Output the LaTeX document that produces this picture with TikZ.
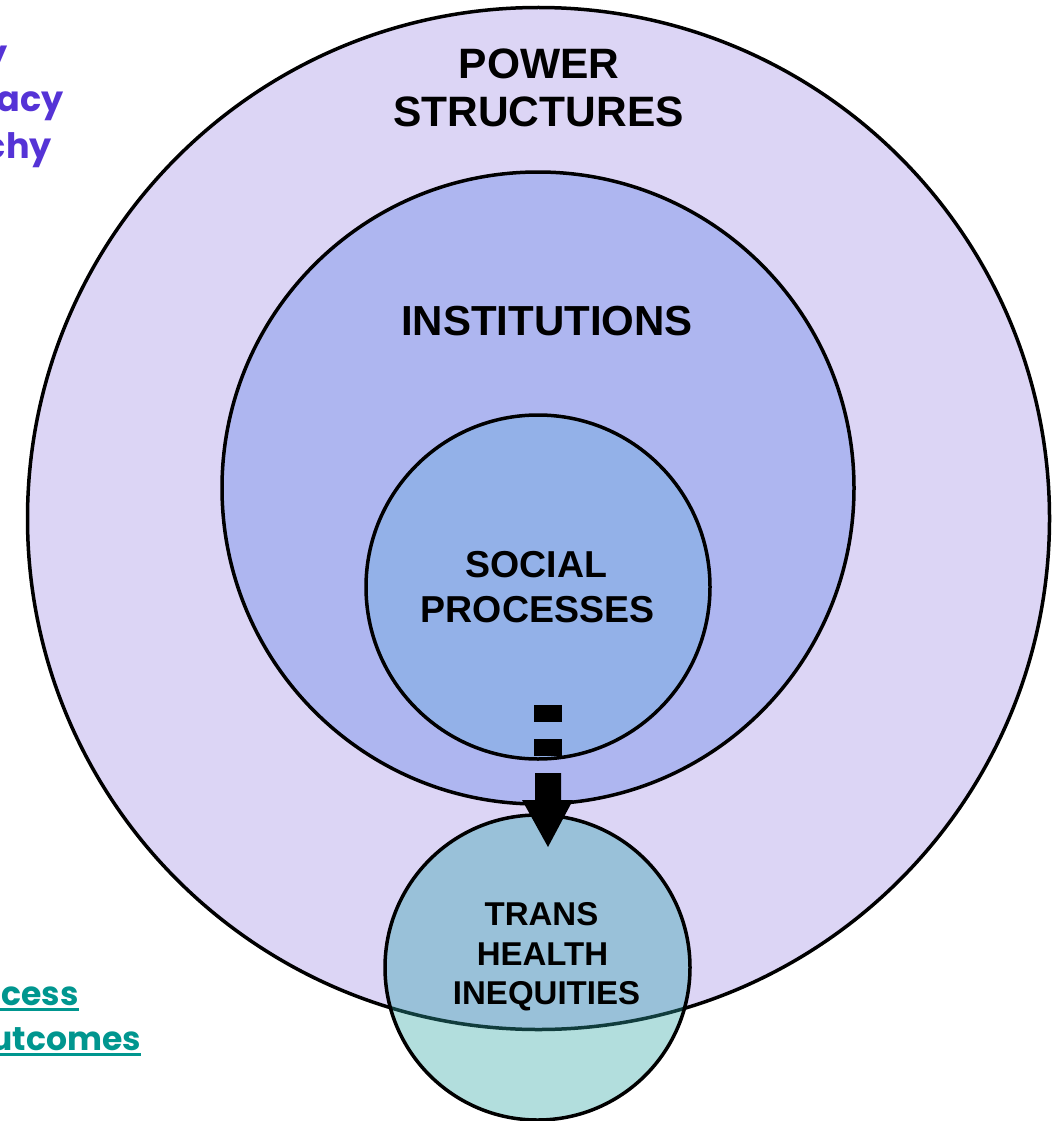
\documentclass[tikz,border=0pt]{standalone}
\usepackage{fontspec}
\setmainfont{Liberation Sans}
\newfontfamily\roundfont{Poppins}
\usetikzlibrary{calc}

\definecolor{powerfill}{HTML}{DCD5F5}
\definecolor{instfill}{HTML}{AEB6F0}
\definecolor{socialfill}{HTML}{93B1E8}
\definecolor{transfill}{HTML}{B2DEDD}
\definecolor{transmix}{HTML}{99C1D9}
\definecolor{edgemix}{HTML}{103C3C}
\definecolor{listpurple}{HTML}{5533D6}
\definecolor{listteal}{HTML}{00968F}

\tikzset{
  ring/.style={circle, draw=black, line width=3.5pt, inner sep=0pt, outer sep=0pt},
  head/.style={font=\bfseries\fontsize{#1}{#1}\selectfont, inner sep=0pt, anchor=base},
  purpletext/.style={font=\roundfont\bfseries\fontsize{35}{35}\selectfont, text=listpurple, inner sep=0pt, anchor=base east},
  tealtext/.style={font=\roundfont\bfseries\fontsize{33}{33}\selectfont, text=listteal, inner sep=0pt, anchor=base east},
  tealrule/.style={draw=listteal, line width=3pt},
}

\begin{document}
\begin{tikzpicture}[x=1pt, y=-1pt]
  \useasboundingbox (0,0) rectangle (1053,1121);
  \clip (0,0) rectangle (1053,1121);

  % nested circles
  \node[ring, fill=powerfill, minimum size=1022pt] (power) at (538.5,518.5) {};
  \node[ring, fill=instfill, minimum size=632pt] (inst) at (538,488) {};
  \node[ring, fill=socialfill, minimum size=344pt] (social) at (538,587) {};

  % outcome circle, tinted where it overlaps the outer ring
  \node[circle, fill=transfill, inner sep=0pt, minimum size=305pt] (trans) at (537.5,967.5) {};
  \begin{scope}
    \clip (power.center) circle[radius=511pt];
    \fill[transmix] (trans.center) circle[radius=152.5pt];
  \end{scope}
  \begin{scope}
    \clip (trans.center) circle[radius=152.5pt];
    \draw[edgemix, line width=3.5pt] (power.center) circle[radius=511pt];
  \end{scope}
  \draw[line width=3.5pt] (trans.center) circle[radius=152.5pt];

  % dashed block arrow from social processes down to the outcomes
  \coordinate (tip) at (548,847);
  \fill ($(tip)+(-14,-142)$) rectangle ($(tip)+(14,-125)$);
  \fill ($(tip)+(-14,-108)$) rectangle ($(tip)+(14,-91)$);
  \fill ($(tip)+(-13,-74)$) -- ($(tip)+(13,-74)$) -- ($(tip)+(13,-47)$)
        -- ($(tip)+(25,-47)$) -- (tip) -- ($(tip)+(-26,-47)$)
        -- ($(tip)+(-13,-47)$) -- cycle;

  % circle labels
  \node[head=42.5] (pw1) at (539,79) {POWER};
  \node[head=42.5] (pw2) at (538.5,127) {STRUCTURES};
  \node[head=42] (in1) at (547,335) {INSTITUTIONS};
  \node[head=37.5] (so1) at (536.5,577) {SOCIAL};
  \node[head=37.5] (so2) at (537.5,622) {PROCESSES};
  \node[head=33] (tr1) at (541.5,925) {TRANS};
  \node[head=33] (tr2) at (542.5,965) {HEALTH};
  \node[head=33] (tr3) at (546.5,1004) {INEQUITIES};

  % side lists
  \node[purpletext] (pl1) at (8,66) {y};
  \node[purpletext] (pl2) at (64,112) {acy};
  \node[purpletext] (pl3) at (52,158) {chy};

  \node[tealtext] (tl1) at (79,1005) {ccess};
  \node[tealtext] (tl2) at (141,1050) {utcomes};
  \draw[tealrule] (0,1009.5) -- ($(tl1.base east)+(0,4.5)$);
  \draw[tealrule] (0,1054.5) -- ($(tl2.base east)+(0,4.5)$);
\end{tikzpicture}
\end{document}
